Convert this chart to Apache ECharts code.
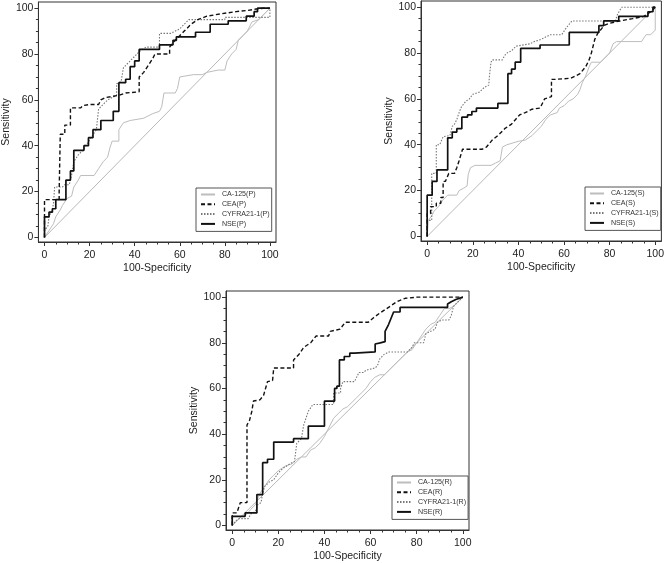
<!DOCTYPE html>
<html><head><meta charset="utf-8">
<script src="https://cdn.jsdelivr.net/npm/echarts@6/dist/echarts.min.js"></script>
<style>html,body{margin:0;padding:0;background:#fff}#c{width:667px;height:563px}</style>
</head><body><div id="c"></div>
<script>
// ---- tick labels ----
const majorTicks = [0, 20, 40, 60, 80, 100];
const minorTicks = [5, 10, 15, 25, 30, 35, 45, 50, 55, 65, 70, 75, 85, 90, 95];
const diagonal = [[0, 0], [100, 100]];
const markers = ['CA-125', 'CEA', 'CYFRA21-1', 'NSE'];

// ---- panel P ----
const caP = [[0,0],[2,3],[4,6],[5,9],[7,12],[8,14],[10,17],[12,18],[13,22],[15,25],[16,27],[22,27],[24,30],[26,33],[28,35],[29,39],[30,42],[33,42],[33,47],[35,50],[38,51],[44,52],[48,54],[51,55],[52,57],[53,63],[58,63],[59,65],[60,70],[66,71],[70,71],[72,72],[77,73],[80,73],[81,77],[83,80],[85,82],[86,86],[88,88],[90,90],[92,94],[95,95],[97,97],[100,100]];
const ceaP = [[0,0],[0,16.5],[6.5,16.5],[6.5,20],[7,20],[7,45],[9,45],[9,49],[11.5,49],[11.5,56.5],[16,56.5],[17,57.5],[20,58],[24,58],[25,60],[27,61],[30,61.5],[33,62],[36,63],[42,63.5],[42,70],[44,72],[46,75],[48,78],[49,80],[55.5,80],[55.5,83],[57,85],[59,87],[62,90],[65,93],[68,95],[72,96.5],[78,97.5],[85,98.5],[90,99],[93,99.5],[97,100],[100,100]];
const cyfraP = [[0,0],[0,3],[1.5,5],[2,9],[3.5,12],[4,15],[4.5,22],[8,22],[9,23],[11,23],[12,27],[13,33],[15,36],[17,38],[19,41],[21,44],[23,47],[24,56],[26,58],[28,60],[30,61],[32,62],[32,67],[34,68],[35,74],[37,76],[40,79],[42,81],[45,83],[51,83],[51,89],[56,89],[58,90],[60,91],[62,93],[64,95],[80,95],[80,96],[100,96],[100,100]];
const nseP = [[0,0],[0,9],[2,9],[2,11],[3.5,11],[3.5,12.5],[5,12.5],[5,16.5],[9.5,16.5],[9.5,25],[11.5,25],[11.5,29],[13,29],[13,38],[17.5,38],[17.5,40],[19.5,40],[19.5,43.5],[21.5,43.5],[21.5,47],[25,47],[25,51],[30.5,51],[30.5,55],[33,55],[33,67.5],[36,67.5],[36,69],[38,69],[38,74.5],[40,74.5],[40,77],[42,77],[42,82],[51,82],[51,84],[57,84],[57,86],[58.5,86],[58.5,87.5],[67,87.5],[67,89.5],[73.5,89.5],[73.5,93],[81.5,93],[81.5,94.5],[89.5,94.5],[89.5,96.5],[93,96.5],[93,98.5],[94.5,98.5],[94.5,100],[100,100]];

// ---- panel S ----
const caS = [[0,0],[0.5,7],[2,9],[3,11],[5,13],[7,16],[9,18],[13,18],[14,20],[16,21],[17.5,22],[18,27],[19,30],[21,31],[28,31],[30,32],[32,33],[33,39],[35,40],[40,41.5],[43,42],[46,44],[48,46],[50,48],[52,51],[54,53],[57,54],[58,56],[60,57],[62,59],[64,60],[66,62],[67,64],[68,67],[69.5,70],[71,74],[72,76],[76,76],[78,78],[80,80],[81.5,84],[83,85],[94,85],[96,88],[98,88],[100,90],[100,100]];
const ceaS = [[0,0],[0,10],[1.5,10],[1.5,13],[4,13],[4,14.5],[6,14.5],[6,17],[7,17],[7,24],[8,24],[9.5,27.5],[12,27.5],[13,30],[14,33],[15.5,38],[24,38],[26,39],[28.5,42],[31,44],[34,47],[37,49],[40.5,53],[43,54],[46,55.5],[49.5,56],[51.5,60],[54.5,61],[54.5,68.5],[56,68.5],[63,69],[67,71],[69.5,74],[71,77],[72,80],[73.5,86],[75,89],[76,90],[77.5,92],[80,93],[84.5,94],[90,95],[95,96],[98,98],[100,100]];
const cyfraS = [[0,0],[0,7],[2,7],[2,27.5],[4,27.5],[4,40],[5.5,40],[7,43.5],[10,44],[11,48],[12,49],[13,51],[14,54],[15,56.5],[17,59],[18.5,60],[20,62],[23,63],[25,65],[27,66],[27.3,70],[28,76],[28.5,77],[33,77],[34,79],[35,80],[37,81],[39,83],[45,84],[47,85],[50,86],[54,88],[59,88],[61,91],[63.5,94],[82.5,94],[83.5,97],[85.3,100],[100,100]];
const nseS = [[0,0],[0,18],[2.2,18],[2.2,24],[4.3,24],[4.3,29],[9,29],[9,43],[11,43],[11,45.5],[13,45.5],[13,47],[15.2,47],[15.2,52],[17.7,52],[17.7,53],[19.6,53],[19.6,54.5],[21.6,54.5],[21.6,56],[31,56],[31,58],[35.4,58],[35.4,71],[37,71],[37,73],[38.6,73],[38.6,76],[41,76],[41,82],[49.5,82],[49.5,83.5],[62.3,83.5],[62.3,89],[75.3,89],[75.3,92],[77.4,92],[77.4,94],[84,94],[84,96],[96.8,96],[96.8,98],[99,98],[99,100],[100,100]];

// ---- panel R ----
const caR = [[0,0],[1,1],[2,2],[4,4],[6,4.5],[8,7],[10,9],[12,14],[14,17],[16,20],[18,22],[20,24],[23,26],[26,27],[28,29],[30,30],[32,30],[34,33],[36,34],[38,36],[40,39],[42,43],[44,47],[46,49],[48,51],[50,52],[52,54],[54,56],[56,58],[58,60],[60,63],[62,65],[64,66],[66,66],[68,68],[70,70],[72,72],[74,74],[76,76],[78,77],[80,80],[82,83],[84,86],[86,88],[88,89],[90,92],[92,95],[94,95],[96,96],[98,98],[100,100]];
const ceaR = [[0,0],[0,5.5],[2,5.5],[3.5,10],[6.4,10],[6.4,44],[7.5,46],[8.5,50],[9.2,54.5],[12,55],[13.6,57],[15.3,63],[17.5,63.5],[18,69],[26.6,69],[26.6,72.5],[29,75],[31,78],[34,80],[36.4,83],[41.8,83],[42.5,85],[46.8,86],[49,89],[59,89],[61.3,91],[64,93],[68.5,96],[71.4,98],[75,99.5],[80,100],[100,100]];
const cyfraR = [[0,0],[1.5,2],[3,3],[7,3],[8,5],[10,6],[11,9],[12.5,10],[13,13],[14,17],[16,19],[18,20],[20,23],[22,25],[25,27],[27,28],[28,36],[30,38],[31,44],[32,47],[33,50],[35,53],[44,53],[44,58],[47,58],[47,60],[48,63],[53,63],[55,67],[57,67],[58,68],[62,69],[63,70],[64,73],[66,75],[68,76],[76,76],[78,78],[79,80],[83,80],[84,84],[86,85],[88,86],[89,89],[91,90],[94,90],[95,92],[96,96],[98,98],[100,100]];
const nseR = [[0,0],[0,4],[5.6,4],[5.6,5.5],[10.7,5.5],[10.7,13.5],[13.2,13.5],[13.2,27.5],[15.3,27.5],[15.3,29],[18,29],[18,36.5],[26.6,36.5],[26.6,38],[33,38],[33,43.5],[40,43.5],[40,54.5],[44.4,54.5],[44.4,60],[45.4,60],[45.4,61],[46.5,61],[46.5,72.5],[48.6,72.5],[48.6,74],[51,74],[51,75.5],[53,75.5],[53,76],[62,76],[62,79.5],[64.2,80],[66.3,80.5],[66.3,85],[67.8,88],[70,93.5],[72.8,93.5],[72.8,95.5],[93.4,95.5],[93.4,97],[95,98],[97,99],[100,100]];

const FONT = "'Liberation Sans', Arial, sans-serif";
const panels = [
  { tag: 'P', sets: [caP, ceaP, cyfraP, nseP], grid: { left: 33, top: 2, width: 243, height: 240 }, legendPos: { left: 196, top: 188 } },
  { tag: 'S', sets: [caS, ceaS, cyfraS, nseS], grid: { left: 421, top: 1, width: 243, height: 240 }, legendPos: { left: 585, top: 187 } },
  { tag: 'R', sets: [caR, ceaR, cyfraR, nseR], grid: { left: 226, top: 291, width: 243, height: 241 }, legendPos: { left: 392, top: 476 } }
];
const styles = [
  { color: '#bdbdbd', width: 1, type: 'solid', z: 2 },
  { color: '#111', width: 1.4, type: [4, 2.5], z: 4 },
  { color: '#777', width: 1.1, type: [1.5, 1.5], z: 3 },
  { color: '#111', width: 1.7, type: 'solid', z: 5 }
];
const XR = [-2.7, 102.7], YR = [-2, 102.7];

const grid = [], xAxis = [], yAxis = [], series = [], legend = [];
panels.forEach((p, i) => {
  grid.push(Object.assign({ show: true, borderColor: '#333', borderWidth: 1, backgroundColor: '#fff' }, p.grid));
  const baseX = { gridIndex: i, type: 'value', min: XR[0], max: XR[1], position: 'bottom', splitLine: { show: false } };
  const baseY = { gridIndex: i, type: 'value', min: YR[0], max: YR[1], position: 'left', splitLine: { show: false } };
  xAxis.push(Object.assign({}, baseX, {
    name: '100-Specificity', nameLocation: 'middle', nameGap: 21,
    nameTextStyle: { fontSize: 10.5, color: '#222', fontFamily: FONT },
    axisLine: { show: true, onZero: false, lineStyle: { color: '#333', width: 1 } },
    axisTick: { show: true, length: 4, customValues: majorTicks, lineStyle: { color: '#333' } },
    axisLabel: { customValues: majorTicks, margin: 8, fontSize: 10.5, color: '#222', fontFamily: FONT }
  }));
  xAxis.push(Object.assign({}, baseX, {
    axisLine: { show: false, onZero: false },
    axisTick: { show: true, length: 2.5, customValues: minorTicks, lineStyle: { color: '#333' } },
    axisLabel: { show: false }
  }));
  yAxis.push(Object.assign({}, baseY, {
    name: 'Sensitivity', nameLocation: 'middle', nameGap: 20,
    nameTextStyle: { fontSize: 10.5, color: '#222', fontFamily: FONT },
    axisLine: { show: true, onZero: false, lineStyle: { color: '#333', width: 1 } },
    axisTick: { show: true, length: 4, customValues: majorTicks, lineStyle: { color: '#333' } },
    axisLabel: { customValues: majorTicks, margin: 5, fontSize: 10.5, color: '#222', fontFamily: FONT }
  }));
  yAxis.push(Object.assign({}, baseY, {
    axisLine: { show: false, onZero: false },
    axisTick: { show: true, length: 2.5, customValues: minorTicks, lineStyle: { color: '#333' } },
    axisLabel: { show: false }
  }));
  const xi = i * 2, yi = i * 2;
  series.push({
    type: 'line', name: 'ref' + p.tag, xAxisIndex: xi, yAxisIndex: yi, data: diagonal,
    symbol: 'none', silent: true, lineStyle: { color: '#9a9a9a', width: 0.7 }, z: 1
  });
  const names = [];
  p.sets.forEach((d, k) => {
    const nm = markers[k] + '(' + p.tag + ')';
    names.push(nm);
    const s = styles[k];
    series.push({
      type: 'line', name: nm, xAxisIndex: xi, yAxisIndex: yi, data: d,
      symbol: 'none', animation: false, z: s.z, color: s.color,
      lineStyle: { color: s.color, width: s.width, type: s.type }
    });
  });
  legend.push(Object.assign({
    orient: 'vertical', data: names, itemWidth: 14, itemHeight: 8, itemGap: 2.8,
    padding: [3, 2, 4, 4], borderColor: '#555', borderWidth: 1, backgroundColor: '#fff',
    selectedMode: false,
    itemStyle: { opacity: 0, borderWidth: 0 },
    textStyle: { fontSize: 7.1, color: '#333', fontFamily: FONT, padding: [0, 0, 0, 2] }
  }, p.legendPos));
});

const chart = echarts.init(document.getElementById('c'), null, { renderer: 'canvas' });
chart.setOption({ animation: false, backgroundColor: '#fff', grid, xAxis, yAxis, series, legend });
</script></body></html>
